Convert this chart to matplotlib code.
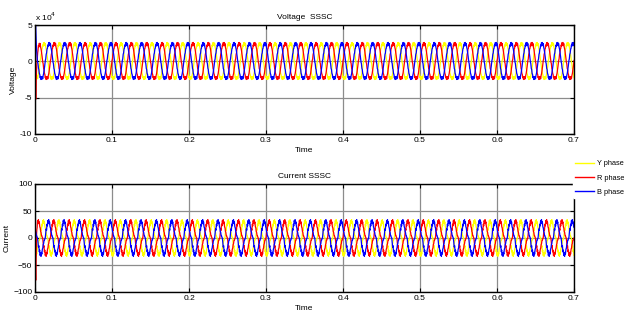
import numpy as np
import matplotlib
matplotlib.use("Agg")
import matplotlib.pyplot as plt
from matplotlib.ticker import FuncFormatter

plt.rcParams['font.family'] = ['Liberation Sans', 'DejaVu Sans']

# ---------------- data ----------------
freq_hz = 50.0
t_end = 0.7
n_cycles = 35

# one normalised cycle of each waveform (with switching ripple)
v_cycle = [0.05, 0.12, 0.40, 0.45, 0.70, 0.72, 0.92, 0.85, 1.05, 0.90, 1.06, 0.88,
           1.00, 0.80, 0.72, 0.56, 0.40, 0.18,
           -0.05, -0.12, -0.40, -0.45, -0.70, -0.72, -0.92, -0.85, -1.02, -0.88, -1.00, -0.86,
           -0.98, -0.80, -0.72, -0.56, -0.40, -0.18]
i_cycle = [0.00, 0.25, 0.50, 0.42, 0.75, 0.66, 0.95, 0.82, 1.00, 0.78, 0.88, 0.60,
           0.58, 0.36, 0.32, 0.12, 0.12, 0.02,
           0.00, -0.25, -0.50, -0.42, -0.75, -0.66, -0.95, -0.82, -1.00, -0.78, -0.88, -0.60,
           -0.58, -0.36, -0.32, -0.12, -0.12, -0.02]
v_amp = 2.45e4
i_amp = 34.0
phase_names = ["Y phase", "R phase", "B phase"]
phase_colors = ["#ffff00", "#ff0000", "#0000ff"]
phase_shift_cycles = [-1/3, 0.0, 1/3]

# start-up transient (time, added value)
trans_t = [0.0, 0.0005, 0.001, 0.0015, 0.002, 0.003, 0.004, 0.006]
v_trans = {
    "Y phase": [0.0, 0.5e4, 1.0e4, 0.5e4, 0.3e4, 0.0, 0.0, 0.0],
    "R phase": [0.0, -3.0e4, -6.2e4, -4.0e4, -2.5e4, -1.5e4, -0.5e4, 0.0],
    "B phase": [0.0, 4.0e4, 2.5e4, 1.0e4, 0.5e4, 0.0, 0.0, 0.0],
}
i_trans = {
    "Y phase": [0.0, 0.0, 0.0, 0.0, 0.0, 0.0, 0.0, 0.0],
    "R phase": [0.0, -60.0, -95.0, -40.0, -15.0, 0.0, 0.0, 0.0],
    "B phase": [0.0, 0.0, 0.0, 0.0, 0.0, 0.0, 0.0, 0.0],
}

v_yticks = [-10e4, -5e4, 0, 5e4]
i_yticks = [-100, -50, 0, 50, 100]
xticks = [0, 0.1, 0.2, 0.3, 0.4, 0.5, 0.6, 0.7]


def build(cycle, amp, shift, tr):
    t = np.linspace(0, t_end, n_cycles * 144 + 1)
    cyc = np.asarray(cycle + [cycle[0]])
    ph = np.linspace(0, 1, len(cyc))
    frac = np.mod(t * freq_hz + shift, 1.0)
    y = amp * np.interp(frac, ph, cyc)
    y = y + np.interp(t, trans_t, tr, right=0.0)
    return t, y


fig = plt.figure(figsize=(6.31, 3.22), dpi=100)
ax1 = fig.add_axes([35/631, 1 - 134/322, 539/631, 109/322])
ax2 = fig.add_axes([35/631, 1 - 292/322, 539/631, 108/322])

handles = []
for name, col, sh in zip(phase_names, phase_colors, phase_shift_cycles):
    t, v = build(v_cycle, v_amp, sh, v_trans[name])
    ax1.plot(t, v, color=col, lw=0.9)
    t, i = build(i_cycle, i_amp, sh, i_trans[name])
    h, = ax2.plot(t, i, color=col, lw=0.9, label=name)
    handles.append(h)

fs = 6
for ax, yt, ylab, title in [(ax1, v_yticks, "Voltage", "Voltage  SSSC"),
                            (ax2, i_yticks, "Current", "Current SSSC")]:
    ax.set_xlim(0, t_end)
    ax.set_ylim(yt[0], yt[-1] if ax is ax2 else 5e4)
    ax.set_xticks(xticks)
    ax.set_yticks(yt)
    ax.grid(True, color="#8c8c8c", lw=0.9, ls="-")
    ax.set_axisbelow(True)
    ax.tick_params(direction="in", length=3, width=0.8, labelsize=fs,
                   top=True, right=True, pad=2)
    ax.set_xlabel("Time", fontsize=fs, labelpad=2)
    ax.set_ylabel(ylab, fontsize=fs, labelpad=2)
    ax.set_title(title, fontsize=fs, pad=4)
    for s in ax.spines.values():
        s.set_linewidth(1.0)
    ax.xaxis.set_major_formatter(FuncFormatter(lambda x, p: "0" if x == 0 else f"{x:g}"))

ax1.yaxis.set_major_formatter(FuncFormatter(lambda y, p: f"{y/1e4:g}"))
ax1.text(0.0, 1.02, r"x 10$^4$", transform=ax1.transAxes, fontsize=fs, va="bottom", ha="left")

leg = fig.legend(handles=handles, loc="upper left", bbox_to_anchor=(573/631, 1 - 158/322),
                 prop={"size": 5.3}, frameon=True, facecolor="white", edgecolor="white",
                 framealpha=1.0, handlelength=2.6, handletextpad=0.3, labelspacing=0.95,
                 borderpad=0.3, borderaxespad=0.0)
for lh in leg.get_lines():
    lh.set_linewidth(1.0)

fig.savefig("out.png", dpi=100)
